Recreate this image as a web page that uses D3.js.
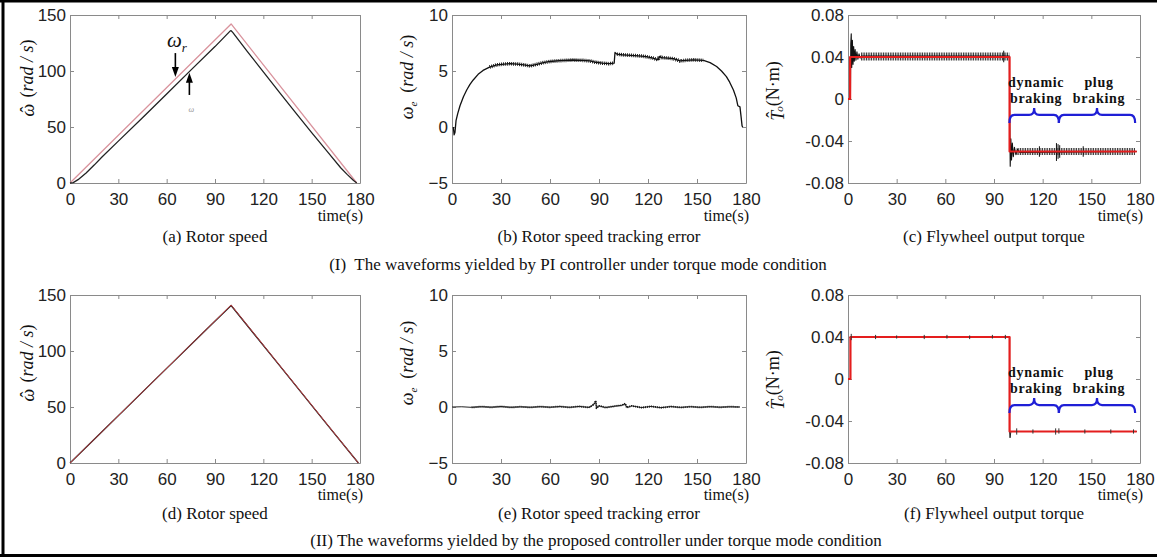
<!DOCTYPE html>
<html>
<head>
<meta charset="utf-8">
<script src="https://cdn.jsdelivr.net/npm/d3@7"></script>
<style>
  body { margin: 0; background: #fff; }
  svg { display: block; }
  .tick text { font-family: "Liberation Sans", Arial, sans-serif; font-size: 17px; fill: #222; }
  .serif { font-family: "Liberation Serif", "Times New Roman", serif; fill: #111; white-space: pre; }
</style>
</head>
<body>
<div id="chart"></div>
<script>
// Tick values
var timeTicks = [0, 30, 60, 90, 120, 150, 180];
var speedTicks = [0, 50, 100, 150];
var errTicks = [-5, 0, 5, 10];
var torqueTicks = [-0.08, -0.04, 0, 0.04, 0.08];

// (a) rotor speed, PI controller  [time s, rad/s]
var speedRefPI = [[0, 0], [100, 142], [178, 0]];
var speedActPI = [[0, 0], [2, 0.3], [5, 3], [10, 9], [15, 16], [20, 23.5], [30, 37.4], [45, 58.3],
  [60, 79.5], [75, 100.8], [90, 121.8], [99.5, 135.8], [100, 136], [101, 134.5], [110, 117.5],
  [120, 99.2], [130, 81], [140, 62.8], [150, 45], [160, 27.5], [168, 13.6], [172, 7.7], [176, 2.2], [178, 0]];

// (d) rotor speed, proposed controller
var speedRefProp = [[0, 0], [100, 141], [179, 0]];
var speedActProp = [[0, 0], [20, 28.1], [50, 70.4], [88, 123.9], [100, 140.6], [130, 87.1], [160, 33.6], [179, 0]];

// (b) speed tracking error, PI controller
var errPI = [[0.8, 0], [1.3, -0.7], [1.8, -0.5], [2.5, 0.6], [3.5, 1.2], [4.9, 1.9], [7, 2.7], [9, 3.3],
  [11, 3.8], [13, 4.2], [16, 4.7], [19, 5.05], [23, 5.35], [27.4, 5.55], [32, 5.62], [35.5, 5.65],
  [40, 5.62], [44, 5.55], [47.8, 5.45], [52, 5.6], [56, 5.75], [60, 5.85], [66, 5.92], [74, 5.98],
  [80, 5.95], [84.5, 5.9], [88, 5.78], [92, 5.7], [96, 5.65], [99.3, 5.7], [99.8, 6.65], [101, 6.5],
  [104, 6.45], [107, 6.42], [112, 6.38], [116, 6.33], [119, 6.28], [123, 6.15], [126.3, 6.0],
  [127, 6.3], [128.5, 6.2], [132, 6.15], [135.5, 6.1], [139.7, 5.9], [143, 5.95], [147.8, 6.0],
  [154, 5.95], [158, 5.75], [162, 5.4], [165, 5.0], [168, 4.5], [170, 4.0], [172.3, 3.3], [174, 2.6],
  [175, 1.9], [176.3, 1.8], [177, 0.9], [177.6, 0.1], [178, 0]];
var errBandPI = [[21, 99.3], [100.3, 157]];

// (e) speed tracking error, proposed controller
var errProp = [[0, 0], [6, 0.02], [12, -0.03], [18, 0.03], [24, -0.02], [30, 0.04], [36, -0.03], [42, 0.02],
  [48, -0.03], [54, 0.03], [60, -0.02], [66, 0.04], [72, -0.03], [78, 0.05], [84, -0.04], [87, 0.25],
  [88, 0.55], [88.5, -0.1], [90, 0.1], [94, -0.05], [100, 0.08], [104, 0.15], [106, 0.3], [107, -0.05],
  [110, 0.1], [116, -0.05], [122, 0.05], [128, -0.06], [134, 0.04], [140, -0.04], [146, 0.03],
  [152, -0.03], [158, 0.03], [164, -0.02], [170, 0.02], [176, 0]];
var errBandProp = [[10, 176]];

// (c) flywheel torque, PI controller  [time s, N.m]
var torqueRefPI = [[0, 0], [1.3, 0], [1.3, 0.04], [99.6, 0.04], [99.6, -0.05], [178, -0.05]];
var torquePI = [[0, 0], [1.5, 0], [1.7, 0.052], [2.0, 0.062], [2.3, 0.03], [2.7, 0.056], [3.1, 0.033],
  [3.5, 0.05], [3.9, 0.036], [4.4, 0.047], [4.9, 0.037], [5.5, 0.045], [6.1, 0.038], [6.8, 0.043],
  [7.5, 0.039], [8.5, 0.041], [99.5, 0.041], [99.7, -0.02], [100, -0.064], [100.4, -0.038],
  [100.8, -0.058], [101.3, -0.042], [101.9, -0.055], [102.6, -0.046], [103.5, -0.053], [104.5, -0.048],
  [106, -0.051], [178, -0.05]];
var torqueBandPI = [[8, 99.4, 0.0405, 0.0038], [104, 177, -0.05, 0.0034]];
var torqueSpikesPI = [[118, -0.055, -0.045], [128.5, -0.059, -0.042], [129.5, -0.057, -0.043],
  [130.5, -0.056, -0.044], [145, -0.055, -0.045], [96, 0.035, 0.046]];

// (f) flywheel torque, proposed controller
var torqueRefProp = [[0, 0], [1.5, 0], [1.5, 0.04], [99.6, 0.04], [99.6, -0.05], [178, -0.05]];
var torqueProp = [[0, 0], [1.5, 0], [1.5, 0.04], [99.6, 0.04], [99.6, -0.05], [99.9, -0.056], [100.4, -0.05], [178, -0.05]];
var torqueSpikesProp = [[2, 0.037, 0.043], [17, 0.038, 0.042], [30, 0.0385, 0.0415], [47, 0.038, 0.042],
  [61, 0.0385, 0.042], [75, 0.038, 0.0415], [89, 0.0385, 0.042], [97, 0.038, 0.042],
  [104, -0.053, -0.047], [114, -0.052, -0.048], [128, -0.053, -0.047], [130, -0.052, -0.047],
  [146, -0.052, -0.048], [162, -0.052, -0.048], [176, -0.052, -0.048]];

// braces: [start, end] in seconds, level in N.m
var braceSpans = [[99.5, 130], [130, 177]];
var braceLabels = [["dynamic", "braking"], ["plug", "braking"]];
var braceLevelPI = -0.0152;
var braceLevelProp = -0.0248;

var captions = ["(I)  The waveforms yielded by PI controller under torque mode condition",
  "(II) The waveforms yielded by the proposed controller under torque mode condition"];

// Set up the figure
//================================
var svgWidth = 1157, svgHeight = 560;
var svg = d3.select("#chart").append("svg")
  .attr("width", svgWidth)
  .attr("height", svgHeight);

// outer frame
svg.append("line").attr("x1", 0).attr("x2", svgWidth).attr("y1", 1).attr("y2", 1)
  .attr("stroke", "#000").attr("stroke-width", 3);
svg.append("line").attr("x1", 3).attr("x2", 3).attr("y1", 0).attr("y2", 557)
  .attr("stroke", "#000").attr("stroke-width", 3);
svg.append("line").attr("x1", 0).attr("x2", svgWidth).attr("y1", 555.5).attr("y2", 555.5)
  .attr("stroke", "#000").attr("stroke-width", 3);

var rows = [
  { top: 15, bottom: 183, timeY: 38, titleY: 59, captionY: 270 },
  { top: 295, bottom: 463, timeY: 37, titleY: 56, captionY: 546 }
];
var cols = [{ left: 70, right: 360 }, { left: 452, right: 746 }, { left: 848, right: 1140 }];

function makePanel(row, col, yDomain, yTicks, yFmt) {
  var w = col.right - col.left, h = row.bottom - row.top;
  var g = svg.append("g").attr("transform", `translate(${col.left}, ${row.top})`);
  var x = d3.scaleLinear().domain([0, 180]).range([0, w]);
  var y = d3.scaleLinear().domain(yDomain).range([h, 0]);

  g.append("g").attr("transform", `translate(0, ${h})`)
    .call(d3.axisBottom(x).tickValues(timeTicks).tickSizeInner(-4).tickSizeOuter(0).tickPadding(10));
  g.append("g")
    .call(d3.axisTop(x).tickValues(timeTicks).tickSizeInner(-4).tickSizeOuter(0).tickFormat(""));
  g.append("g")
    .call(d3.axisLeft(y).tickValues(yTicks).tickSizeInner(-4).tickSizeOuter(0).tickPadding(4).tickFormat(yFmt));
  g.append("g").attr("transform", `translate(${w}, 0)`)
    .call(d3.axisRight(y).tickValues(yTicks).tickSizeInner(-4).tickSizeOuter(0).tickFormat(""));
  g.selectAll(".domain, .tick line").attr("stroke", "#8a8a8a");

  g.append("text").attr("class", "serif")
    .attr("x", w + 3).attr("y", h + row.timeY)
    .attr("text-anchor", "end").style("font-size", "16px")
    .text("time(s)");
  return { g: g, x: x, y: y, w: w, h: h };
}

function drawLine(p, data, color, width) {
  var line = d3.line().x(d => p.x(d[0])).y(d => p.y(d[1]));
  return p.g.append("path").datum(data)
    .attr("d", line).attr("fill", "none")
    .attr("stroke", color).attr("stroke-width", width)
    .attr("stroke-linejoin", "round");
}

// noise band drawn as a hairy thick stroke over a segment of the series
function drawBandOnSeries(p, data, spans, width) {
  spans.forEach(function(s) {
    var seg = data.filter(d => d[0] >= s[0] && d[0] <= s[1]);
    drawLine(p, seg, "#111", width).attr("stroke-dasharray", "0.9 1.1");
  });
}

function drawLevelBands(p, bands) {
  bands.forEach(function(b) {
    var wpx = Math.abs(p.y(b[2] + b[3]) - p.y(b[2] - b[3]));
    drawLine(p, [[b[0], b[2]], [b[1], b[2]]], "#111", wpx).attr("stroke-dasharray", "0.8 0.9");
  });
}

function drawSpikes(p, spikes, color) {
  p.g.selectAll(null).data(spikes).enter().append("line")
    .attr("x1", d => p.x(d[0])).attr("x2", d => p.x(d[0]))
    .attr("y1", d => p.y(d[1])).attr("y2", d => p.y(d[2]))
    .attr("stroke", color).attr("stroke-width", 1);
}

function drawBraces(p, level) {
  var yl = p.y(level);
  braceSpans.forEach(function(s, i) {
    var x0 = p.x(s[0]), x1 = p.x(s[1]), xm = (x0 + x1) / 2, r = 5;
    var path = `M${x0},${yl + 8} Q${x0},${yl} ${x0 + r},${yl} L${xm - r},${yl} Q${xm},${yl} ${xm},${yl - 7}`
      + ` Q${xm},${yl} ${xm + r},${yl} L${x1 - r},${yl} Q${x1},${yl} ${x1},${yl + 8}`;
    p.g.append("path").attr("d", path).attr("fill", "none")
      .attr("stroke", "#1f1fd6").attr("stroke-width", 2.2);
    braceLabels[i].forEach(function(t, k) {
      p.g.append("text").attr("class", "serif")
        .attr("x", xm + 2).attr("y", yl - 28 + k * 16)
        .attr("text-anchor", "middle")
        .style("font-size", "14px").style("font-weight", "bold").style("letter-spacing", "0.7px")
        .text(t);
    });
  });
}

function title(p, row, txt) {
  p.g.append("text").attr("class", "serif")
    .attr("x", p.w / 2).attr("y", p.h + row.titleY)
    .attr("text-anchor", "middle").style("font-size", "17px")
    .text(txt);
}

// omega / T with a hat placed over the glyph
function hatted(t, glyph, back, lift) {
  t.append("tspan").style("font-style", "italic").text(glyph);
  t.append("tspan").attr("dx", -back).attr("dy", -lift).style("font-style", "normal").text("\u02c6");
  t.append("tspan").attr("dx", back - 6.5).attr("dy", lift).text("");
}

function yLabel(x, y, kind) {
  var t = svg.append("text").attr("class", "serif")
    .attr("transform", `translate(${x}, ${y}) rotate(-90)`)
    .attr("text-anchor", "middle").style("font-size", "18px");
  if (kind === "speed") {
    hatted(t, "\u03c9", 8.5, 1);
    t.append("tspan").text("  (");
    t.append("tspan").style("font-style", "italic").text("rad / s");
    t.append("tspan").text(")");
  } else if (kind === "err") {
    t.append("tspan").style("font-style", "italic").text("\u03c9");
    t.append("tspan").style("font-style", "italic").style("font-size", "11px").attr("dy", 4).text("e");
    t.append("tspan").attr("dy", -4).text("  (");
    t.append("tspan").style("font-style", "italic").text("rad / s");
    t.append("tspan").text(")");
  } else {
    hatted(t, "T", 7, 5);
    t.append("tspan").style("font-style", "italic").style("font-size", "11px").attr("dy", 4).text("o");
    t.append("tspan").attr("dy", -4).text("(N\u00b7m)");
  }
}

function torqueFmt(d) { return d === 0 ? "0" : d.toFixed(2); }

// ---------- Row I ----------
var pa = makePanel(rows[0], cols[0], [0, 150], speedTicks, d3.format("d"));
drawLine(pa, speedRefPI, "#d9939d", 1.3);
drawLine(pa, speedActPI, "#222", 1.3);
title(pa, rows[0], "(a) Rotor speed");

// arrows and omega_r annotation
function arrow(p, t, v0, v1) {
  var xa = p.x(t), ya = p.y(v0), yb = p.y(v1), dir = yb > ya ? 1 : -1;
  p.g.append("line").attr("x1", xa).attr("x2", xa).attr("y1", ya).attr("y2", yb - dir * 6)
    .attr("stroke", "#000").attr("stroke-width", 1.6);
  p.g.append("path")
    .attr("d", `M${xa - 3.5},${yb - dir * 10} L${xa + 3.5},${yb - dir * 10} L${xa},${yb} Z`)
    .attr("fill", "#000");
}
arrow(pa, 65.4, 116, 94.6);
arrow(pa, 74.1, 78.6, 98.5);
var wr = pa.g.append("text").attr("class", "serif")
  .attr("x", pa.x(60.2)).attr("y", pa.y(121.5)).style("font-size", "21px").style("font-style", "italic");
wr.append("tspan").text("\u03c9");
wr.append("tspan").attr("dy", 5).style("font-size", "13px").text("r");
pa.g.append("text").attr("class", "serif")
  .attr("x", pa.x(73.5)).attr("y", pa.y(63)).style("font-size", "8px").style("fill", "#999")
  .style("font-style", "italic").text("\u03c9");

var pb = makePanel(rows[0], cols[1], [-5, 10], errTicks, d3.format("d"));
drawLine(pb, errPI, "#111", 1.3);
drawBandOnSeries(pb, errPI, errBandPI, 3.6);
title(pb, rows[0], "(b) Rotor speed tracking error");

var pc = makePanel(rows[0], cols[2], [-0.08, 0.08], torqueTicks, torqueFmt);
drawLine(pc, torquePI, "#111", 1.1);
drawLevelBands(pc, torqueBandPI);
drawSpikes(pc, torqueSpikesPI, "#111");
drawLine(pc, torqueRefPI, "#e41e1e", 2.2);
drawBraces(pc, braceLevelPI);
title(pc, rows[0], "(c) Flywheel output torque");

// ---------- Row II ----------
var pd = makePanel(rows[1], cols[0], [0, 150], speedTicks, d3.format("d"));
drawLine(pd, speedActProp, "#222", 1.3);
drawLine(pd, speedRefProp, "#b8383c", 1);
title(pd, rows[1], "(d) Rotor speed");

var pe = makePanel(rows[1], cols[1], [-5, 10], errTicks, d3.format("d"));
drawLine(pe, errProp, "#222", 1);
drawBandOnSeries(pe, errProp, errBandProp, 2);
title(pe, rows[1], "(e) Rotor speed tracking error");

var pf = makePanel(rows[1], cols[2], [-0.08, 0.08], torqueTicks, torqueFmt);
drawLine(pf, torqueProp, "#222", 1);
drawLine(pf, torqueRefProp, "#e41e1e", 2.2);
drawSpikes(pf, torqueSpikesProp, "#333");
drawBraces(pf, braceLevelProp);
title(pf, rows[1], "(f) Flywheel output torque");

// axis labels
yLabel(34, 78, "speed");
yLabel(413, 77, "err");
yLabel(784, 91, "torque");
yLabel(34, 363, "speed");
yLabel(413, 363, "err");
yLabel(784, 380, "torque");

// row captions
[578, 596].forEach(function(cx, i) {
  svg.append("text").attr("class", "serif")
    .attr("x", cx).attr("y", rows[i].captionY)
    .attr("text-anchor", "middle").style("font-size", "17px")
    .text(captions[i]);
});
</script>
</body>
</html>
